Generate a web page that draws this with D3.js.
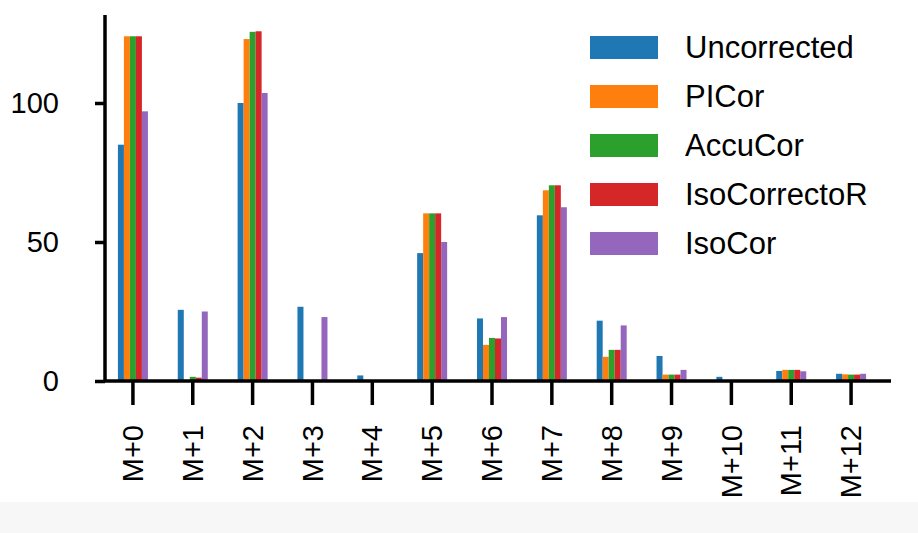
<html>
<head>
<script src="https://cdn.jsdelivr.net/npm/d3@7"></script>
<style>
body { margin: 0; background: #fff; }
text { font-family: Arial, "Liberation Sans", sans-serif; }
</style>
</head>
<body>
<svg width="918" height="533"></svg>
<script>
var categories = ["M+0","M+1","M+2","M+3","M+4","M+5","M+6","M+7","M+8","M+9","M+10","M+11","M+12"];
var seriesNames = ["Uncorrected","PICor","AccuCor","IsoCorrectoR","IsoCor"];
var colors = ["#1f77b4","#ff7f0e","#2ca02c","#d62728","#9467bd"];
var uncorrected = [85, 25.6, 100, 26.7, 2, 46, 22.5, 59.6, 21.7, 9, 1.5, 3.6, 2.6];
var picor       = [124, 0, 123, 0, 0, 60.3, 13, 68.6, 8.7, 2.3, 0, 4, 2.4];
var accucor     = [124, 1.5, 125.6, 0, 0, 60.3, 15.5, 70.4, 11.2, 2.3, 0, 4, 2.3];
var isocorrector= [124, 1.2, 125.8, 0, 0, 60.3, 15.3, 70.4, 11.2, 2.3, 0, 4, 2.3];
var isocor      = [97, 25, 103.6, 23, 0, 50, 23, 62.5, 20, 4, 0, 3.5, 2.6];
var series = [uncorrected, picor, accucor, isocorrector, isocor];
var yTicks = [0, 50, 100];

var svg = d3.select("svg");
svg.append("rect").attr("x",0).attr("y",502).attr("width",918).attr("height",31).attr("fill","#f7f7f7");

var x = d3.scaleBand().domain(categories).range([103, 881]).padding(0);
var y = d3.scaleLinear().domain([0, 100]).range([381, 103]);
var barW = 6;

var g = svg.append("g");
series.forEach(function(vals, si) {
  g.selectAll(".b"+si).data(vals).enter().append("rect")
    .attr("x", function(d,i){ return x(categories[i]) + x.bandwidth()/2 + (si-2.5)*barW; })
    .attr("y", function(d){ return y(d); })
    .attr("width", barW)
    .attr("height", function(d){ return y(0)-y(d); })
    .attr("fill", colors[si]);
});

var yAxis = svg.append("g").attr("transform","translate(105,0)")
  .call(d3.axisLeft(y).tickValues(yTicks).tickSize(10).tickPadding(36));
yAxis.select(".domain").attr("d","M0,15V381");
var xAxis = svg.append("g").attr("transform","translate(0,381)")
  .call(d3.axisBottom(x).tickSize(24).tickPadding(10));
xAxis.select(".domain").attr("d","M105,0H891");
[yAxis, xAxis].forEach(function(a){
  a.attr("font-size",null);
  a.selectAll(".domain").attr("stroke","#000").attr("stroke-width",3.5);
  a.selectAll(".tick line").attr("stroke","#000").attr("stroke-width",3.5);
  a.selectAll("text").style("font-size","29px").attr("fill","#000");
});
xAxis.selectAll("text")
  .attr("transform","rotate(-90)").attr("text-anchor","end")
  .attr("x",-44).attr("y",0).attr("dy","0.35em");

var leg = svg.append("g");
seriesNames.forEach(function(n, i) {
  var yy = 47 + i*49;
  leg.append("rect").attr("x",590).attr("y",yy-11).attr("width",68).attr("height",23).attr("fill",colors[i]);
  leg.append("text").attr("x",685).attr("y",yy).attr("dy","0.36em").style("font-size","31px").text(n);
});
</script>
</body>
</html>
